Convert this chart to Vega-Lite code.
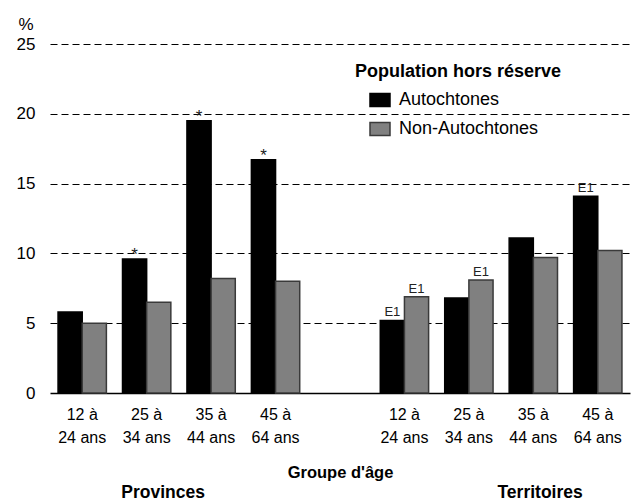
{
  "$schema": "https://vega.github.io/schema/vega-lite/v6.json",
  "width": 580,
  "height": 349,
  "autosize": {"type": "none"},
  "padding": {"left": 50, "top": 44, "right": 4, "bottom": 109},
  "background": "white",
  "config": {
    "font": "Liberation Sans",
    "view": {"stroke": null}
  },
  "data": {
    "values": [
      {"cat": "P-12 à 24 ans", "series": "Autochtones", "value": 5.8, "note": ""},
      {"cat": "P-12 à 24 ans", "series": "Non-Autochtones", "value": 5.0, "note": ""},
      {"cat": "P-25 à 34 ans", "series": "Autochtones", "value": 9.6, "note": "*"},
      {"cat": "P-25 à 34 ans", "series": "Non-Autochtones", "value": 6.5, "note": ""},
      {"cat": "P-35 à 44 ans", "series": "Autochtones", "value": 19.5, "note": "*"},
      {"cat": "P-35 à 44 ans", "series": "Non-Autochtones", "value": 8.2, "note": ""},
      {"cat": "P-45 à 64 ans", "series": "Autochtones", "value": 16.7, "note": "*"},
      {"cat": "P-45 à 64 ans", "series": "Non-Autochtones", "value": 8.0, "note": ""},
      {"cat": "T-12 à 24 ans", "series": "Autochtones", "value": 5.2, "note": "E1"},
      {"cat": "T-12 à 24 ans", "series": "Non-Autochtones", "value": 6.9, "note": "E1"},
      {"cat": "T-25 à 34 ans", "series": "Autochtones", "value": 6.8, "note": ""},
      {"cat": "T-25 à 34 ans", "series": "Non-Autochtones", "value": 8.1, "note": "E1"},
      {"cat": "T-35 à 44 ans", "series": "Autochtones", "value": 11.1, "note": ""},
      {"cat": "T-35 à 44 ans", "series": "Non-Autochtones", "value": 9.7, "note": ""},
      {"cat": "T-45 à 64 ans", "series": "Autochtones", "value": 14.1, "note": "E1"},
      {"cat": "T-45 à 64 ans", "series": "Non-Autochtones", "value": 10.2, "note": ""}
    ]
  },
  "encoding": {
    "x": {
      "field": "cat",
      "type": "nominal",
      "sort": null,
      "scale": {
        "domain": ["P-12 à 24 ans", "P-25 à 34 ans", "P-35 à 44 ans", "P-45 à 64 ans", "gap", "T-12 à 24 ans", "T-25 à 34 ans", "T-35 à 44 ans", "T-45 à 64 ans"],
        "paddingInner": 0.25,
        "paddingOuter": 0.125
      },
      "axis": {
        "title": "Groupe d'âge",
        "titleFontSize": 16.5,
        "titleFontWeight": "bold",
        "titleColor": "black",
        "titlePadding": 19,
        "labelAngle": 0,
        "labelFontSize": 16,
        "labelColor": "black",
        "labelLineHeight": 23,
        "labelPadding": 13,
        "labelExpr": "datum.value == 'gap' ? '' : [slice(datum.value, 2, 6), slice(datum.value, 7)]",
        "ticks": false,
        "domain": true,
        "domainColor": "black",
        "domainWidth": 1.5,
        "grid": false
      }
    }
  },
  "layer": [
    {
      "mark": {"type": "bar", "strokeWidth": 1.5},
      "encoding": {
        "xOffset": {"field": "series", "type": "nominal", "scale": {"paddingInner": 0, "paddingOuter": 0}},
        "y": {
          "field": "value",
          "type": "quantitative",
          "scale": {"domain": [0, 25], "nice": false},
          "axis": {
            "values": [0, 5, 10, 15, 20, 25],
            "title": "%",
            "titleAngle": 0,
            "titleAlign": "left",
            "titleBaseline": "alphabetic",
            "titleX": -32,
            "titleY": -15,
            "titleFontSize": 17,
            "titleFontWeight": "normal",
            "titleColor": "black",
            "labelFontSize": 17,
            "labelColor": "black",
            "labelPadding": 15,
            "ticks": false,
            "domain": false,
            "grid": true,
            "gridColor": "black",
            "gridDash": [7, 4],
            "gridWidth": 1,
            "gridOpacity": {"condition": {"test": "datum.value == 0", "value": 0}, "value": 1}
          }
        },
        "fill": {
          "field": "series",
          "type": "nominal",
          "scale": {"domain": ["Autochtones", "Non-Autochtones"], "range": ["#000000", "#808080"]},
          "legend": {
            "title": "Population hors réserve",
            "orient": "none",
            "legendX": 305,
            "legendY": 19,
            "titleFontSize": 18,
            "titleFontWeight": "bold",
            "titleColor": "black",
            "titleLimit": 400,
            "labelLimit": 400,
            "titlePadding": 8,
            "labelFontSize": 18,
            "labelColor": "black",
            "labelOffset": 8,
            "symbolType": "M-1,-0.65H1V0.65H-1Z",
            "symbolSize": 400,
            "symbolStrokeWidth": 1.5,
            "rowPadding": 8,
            "offset": 0,
            "padding": 0,
            "symbolOffset": 14
          }
        },
        "stroke": {
          "field": "series",
          "type": "nominal",
          "scale": {"domain": ["Autochtones", "Non-Autochtones"], "range": ["#000000", "#3a3a3a"]},
          "legend": null
        }
      }
    },
    {
      "transform": [{"filter": "datum.note == '*'"}],
      "mark": {"type": "text", "fontSize": 17, "baseline": "alphabetic", "dy": 1, "color": "#222222"},
      "encoding": {
        "xOffset": {"field": "series", "type": "nominal", "scale": {"paddingInner": 0, "paddingOuter": 0}},
        "y": {"field": "value", "type": "quantitative"},
        "text": {"field": "note"}
      }
    },
    {
      "transform": [{"filter": "datum.note == 'E1'"}],
      "mark": {"type": "text", "fontSize": 13, "baseline": "alphabetic", "dy": -4, "color": "#222222"},
      "encoding": {
        "xOffset": {"field": "series", "type": "nominal", "scale": {"paddingInner": 0, "paddingOuter": 0}},
        "y": {"field": "value", "type": "quantitative"},
        "text": {"field": "note"}
      }
    },
    {
      "data": {"values": [{"cat": "P-25 à 34 ans", "label": "Provinces"}]},
      "mark": {"type": "text", "fontSize": 17.5, "fontWeight": "bold", "baseline": "alphabetic", "dy": 105, "color": "black"},
      "encoding": {
        "x": {"field": "cat", "type": "nominal", "bandPosition": 0.84},
        "y": {"datum": 0, "type": "quantitative"},
        "text": {"field": "label"}
      }
    },
    {
      "data": {"values": [{"cat": "T-35 à 44 ans", "label": "Territoires"}]},
      "mark": {"type": "text", "fontSize": 17.5, "fontWeight": "bold", "baseline": "alphabetic", "dy": 105, "color": "black"},
      "encoding": {
        "x": {"field": "cat", "type": "nominal", "bandPosition": 0.64},
        "y": {"datum": 0, "type": "quantitative"},
        "text": {"field": "label"}
      }
    }
  ]
}
